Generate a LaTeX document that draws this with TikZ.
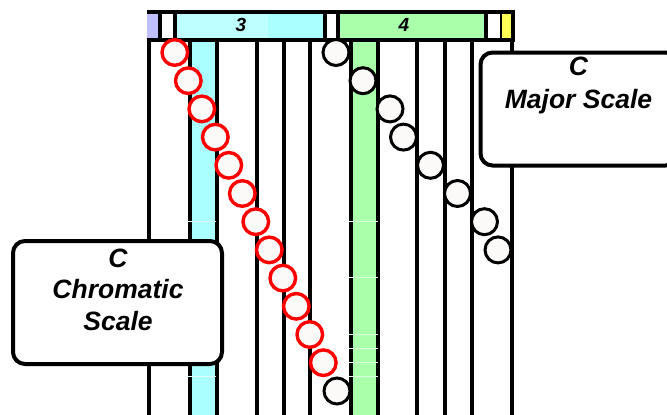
\documentclass[tikz,border=0pt]{standalone}
\usepackage{fontspec}
\setmainfont{Liberation Sans}
\definecolor{cyanband}{HTML}{AAFFFF}
\definecolor{cyanlight}{HTML}{BEFFFF}
\definecolor{greenband}{HTML}{AAFFAA}
\definecolor{purplecell}{HTML}{C0C0FF}
\definecolor{yellowcell}{HTML}{FFFF55}
\definecolor{notefill}{HTML}{FCFAF8}
\definecolor{cyantick}{HTML}{DDFFFF}
\definecolor{greentick}{HTML}{DDFFDD}
\begin{document}
\begin{tikzpicture}[x=1pt,y=-1pt,
  stringline/.style={line width=4pt,black},
  barline/.style={line width=4pt,black},
  tickline/.style={line width=0.9pt},
  rednote/.style={circle,draw=red,line width=3.4pt,fill=notefill,minimum size=25.6pt,inner sep=0pt},
  blacknote/.style={circle,draw=black,line width=3pt,fill=notefill,minimum size=26pt,inner sep=0pt},
  infobox/.style={draw=black,line width=4pt,fill=white,rounded corners=12pt,inner sep=0pt},
  boxtext/.style={font=\fontsize{26.5}{31}\selectfont\bfseries\itshape,anchor=base,inner sep=0pt},
  bartext/.style={font=\fontsize{19}{20}\selectfont\bfseries\itshape,anchor=base,inner sep=0pt}]
\useasboundingbox (0,0) rectangle (667,415);
\clip (0,0) rectangle (667,415);
% bands
\fill[cyanband] (190,39.5) rectangle (216.5,416);
\fill[greenband] (351,39.5) rectangle (378,416);
% strings
\foreach \sx in {149,190,216.5,257,284,310,351,378,417,445,472,512}
  \draw[stringline] (\sx,39.5) -- (\sx,416);
% faint ticks
\foreach \ty in {221,376}
  \draw[tickline,cyantick] (187,\ty) -- (216,\ty);
\foreach \ty in {221,277,334,348,362,376}
  \draw[tickline,greentick] (349,\ty) -- (378,\ty);
% top bar cells
\fill[purplecell] (147,12) rectangle (160,39.5);
\fill[white] (160,12) rectangle (175,39.5);
\fill[cyanlight] (175,12) rectangle (268,39.5);
\fill[cyanband] (268,12) rectangle (324.5,39.5);
\fill[white] (324.5,12) rectangle (338,39.5);
\fill[greenband] (338,12) rectangle (485.5,39.5);
\fill[white] (485.5,12) rectangle (501,39.5);
\fill[yellowcell] (501,12) rectangle (512.5,39.5);
\draw[barline] (147,12) -- (512.5,12) -- (512.5,39.5) -- (147,39.5);
\foreach \dx in {160,175,324.5,338,485.5}
  \draw[barline] (\dx,12) -- (\dx,39.5);
\draw[line width=2.5pt] (501,12) -- (501,39.5);
\node[bartext] (n3) at (241,31) {3};
\node[bartext] (n4) at (404,31.5) {4};
% chromatic notes
\foreach \k in {0,...,11}
  \node[rednote] (r\k) at ({174.8+13.5*\k},{52.5+28.2*\k}) {};
\node[blacknote] (rend) at (337,391) {};
% major notes
\foreach \k/\j in {12/0,14/1,16/2,17/3,19/4,21/5,23/6,24/7}
  \node[blacknote] (m\j) at ({174+13.5*\k},{52.5+28.2*\j}) {};
% boxes
\node[infobox,minimum width=209pt,minimum height=123pt] (chrom) at (117.5,302.5) {};
\node[boxtext] (chromC) at (118,267) {C};
\node[boxtext] (chromA) at (118,298) {Chromatic};
\node[boxtext] (chromB) at (118,330) {Scale};
\node[infobox,minimum width=197pt,minimum height=113pt] (major) at (579,109) {};
\node[boxtext] (majorC) at (578.5,75) {C};
\node[boxtext] (majorA) at (578.5,108) {Major Scale};
\end{tikzpicture}
\end{document}
